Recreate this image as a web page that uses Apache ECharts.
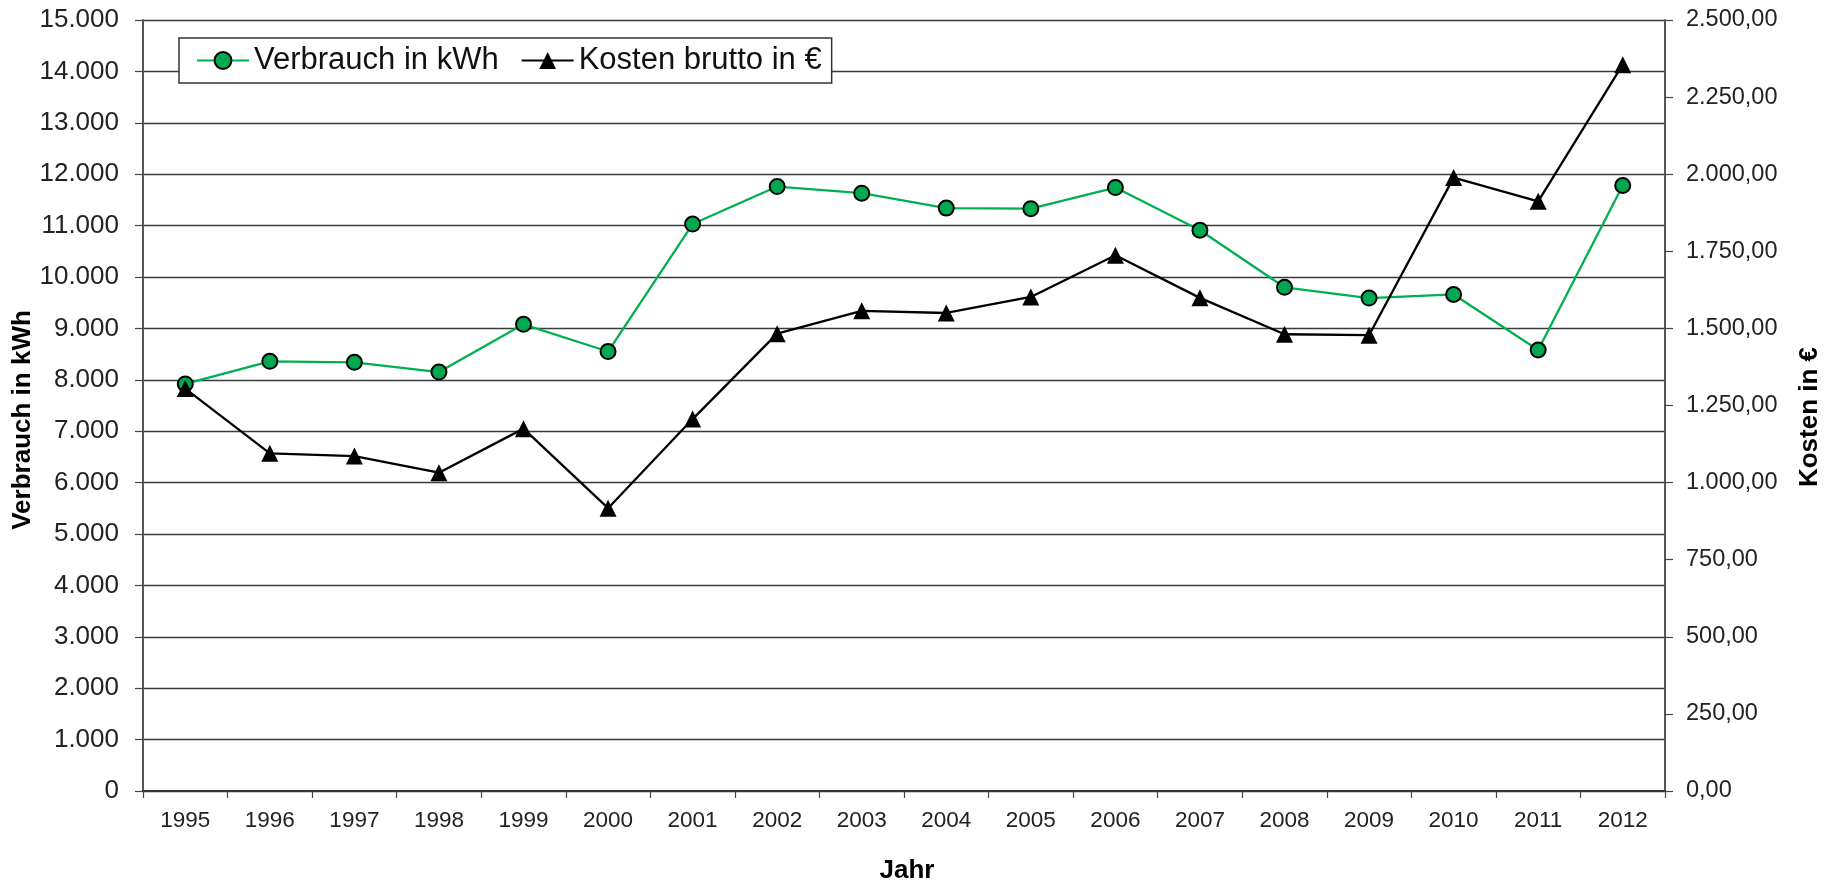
<!DOCTYPE html>
<html>
<head>
<meta charset="utf-8">
<script src="https://cdn.jsdelivr.net/npm/echarts@6/dist/echarts.min.js"></script>
<style>
html,body{margin:0;padding:0;background:#fff;}
#chart{width:1837px;height:885px;}
</style>
</head>
<body>
<div id="chart"></div>
<script>
const years = ['1995','1996','1997','1998','1999','2000','2001','2002','2003','2004','2005','2006','2007','2008','2009','2010','2011','2012'];
const verbrauch = [7920, 8360, 8340, 8150, 9080, 8550, 11030, 11760, 11630, 11340, 11330, 11740, 10910, 9800, 9590, 9660, 8580, 11780];
const kosten = [1305, 1095, 1086, 1032, 1175, 917, 1206, 1483, 1557, 1550, 1602, 1737, 1599, 1481, 1478, 1989, 1912, 2355];
const nameVerbrauch = 'Verbrauch in kWh';
const nameKosten = 'Kosten brutto in €';
const titleLeft = 'Verbrauch in kWh';
const titleRight = 'Kosten in €';
const titleX = 'Jahr';

function thousands(n) {
  return String(n).replace(/\B(?=(\d{3})+(?!\d))/g, '.');
}
function fmtLeft(v) { return thousands(Math.round(v)); }
function fmtRight(v) {
  const ip = Math.floor(v);
  const dec = Math.round((v - ip) * 100);
  return thousands(ip) + ',' + String(dec).padStart(2, '0');
}

const FONT = '"Liberation Sans", Arial, Helvetica, sans-serif';
const chart = echarts.init(document.getElementById('chart'), null, {renderer: 'canvas'});
chart.setOption({
  animation: false,
  backgroundColor: '#ffffff',
  textStyle: {fontFamily: FONT},
  grid: {left: 143, right: 172, top: 20, bottom: 94, containLabel: false, outerBoundsMode: 'none'},
  legend: {
    left: 179, top: 38,
    orient: 'horizontal',
    padding: [7, 10, 7, 17],
    itemGap: 22,
    itemWidth: 52,
    itemHeight: 21,
    borderColor: '#333',
    borderWidth: 1.5,
    backgroundColor: '#fff',
    textStyle: {fontSize: 31, color: '#111', fontFamily: FONT},
    data: [nameVerbrauch, nameKosten]
  },
  xAxis: {
    type: 'category',
    data: years,
    boundaryGap: true,
    axisLine: {show: true, lineStyle: {color: '#333', width: 2}},
    axisTick: {show: true, interval: 0, length: 7, lineStyle: {color: '#444', width: 1.2}},
    axisLabel: {interval: 0, fontSize: 22.5, color: '#222', margin: 18, fontFamily: FONT},
    splitLine: {show: false}
  },
  yAxis: [
    {
      type: 'value', position: 'left', min: 0, max: 15000, interval: 1000,
      axisLine: {show: true, lineStyle: {color: '#555', width: 2}},
      axisTick: {show: true, length: 8, lineStyle: {color: '#444', width: 1.2}},
      axisLabel: {fontSize: 26, color: '#222', margin: 24, formatter: fmtLeft, fontFamily: FONT},
      splitLine: {show: true, lineStyle: {color: '#3a3a3a', width: 1.3}}
    },
    {
      type: 'value', position: 'right', min: 0, max: 2500, interval: 250,
      axisLine: {show: true, lineStyle: {color: '#555', width: 2}},
      axisTick: {show: true, length: 8, lineStyle: {color: '#444', width: 1.2}},
      axisLabel: {fontSize: 23.5, color: '#222', margin: 21, formatter: fmtRight, fontFamily: FONT},
      splitLine: {show: false}
    }
  ],
  series: [
    {
      name: nameVerbrauch,
      type: 'line',
      yAxisIndex: 0,
      data: verbrauch,
      symbol: 'circle',
      symbolSize: 15,
      lineStyle: {color: '#00b050', width: 2.3},
      itemStyle: {color: '#00a84f', borderColor: '#000', borderWidth: 2},
      z: 3
    },
    {
      name: nameKosten,
      type: 'line',
      yAxisIndex: 1,
      data: kosten,
      symbol: 'triangle',
      symbolSize: 17,
      lineStyle: {color: '#000', width: 2.3},
      itemStyle: {color: '#000', borderColor: '#000', borderWidth: 0},
      z: 4
    }
  ],
  graphic: [
    {
      type: 'text', x: 23, y: 420, rotation: Math.PI / 2,
      style: {text: titleLeft, font: 'bold 26px ' + FONT, fill: '#000', align: 'center', verticalAlign: 'middle'}
    },
    {
      type: 'text', x: 1810, y: 417, rotation: Math.PI / 2,
      style: {text: titleRight, font: 'bold 26px ' + FONT, fill: '#000', align: 'center', verticalAlign: 'middle'}
    },
    {
      type: 'text', x: 907, y: 871,
      style: {text: titleX, font: 'bold 26px ' + FONT, fill: '#000', align: 'center', verticalAlign: 'middle'}
    }
  ]
});
</script>
</body>
</html>
